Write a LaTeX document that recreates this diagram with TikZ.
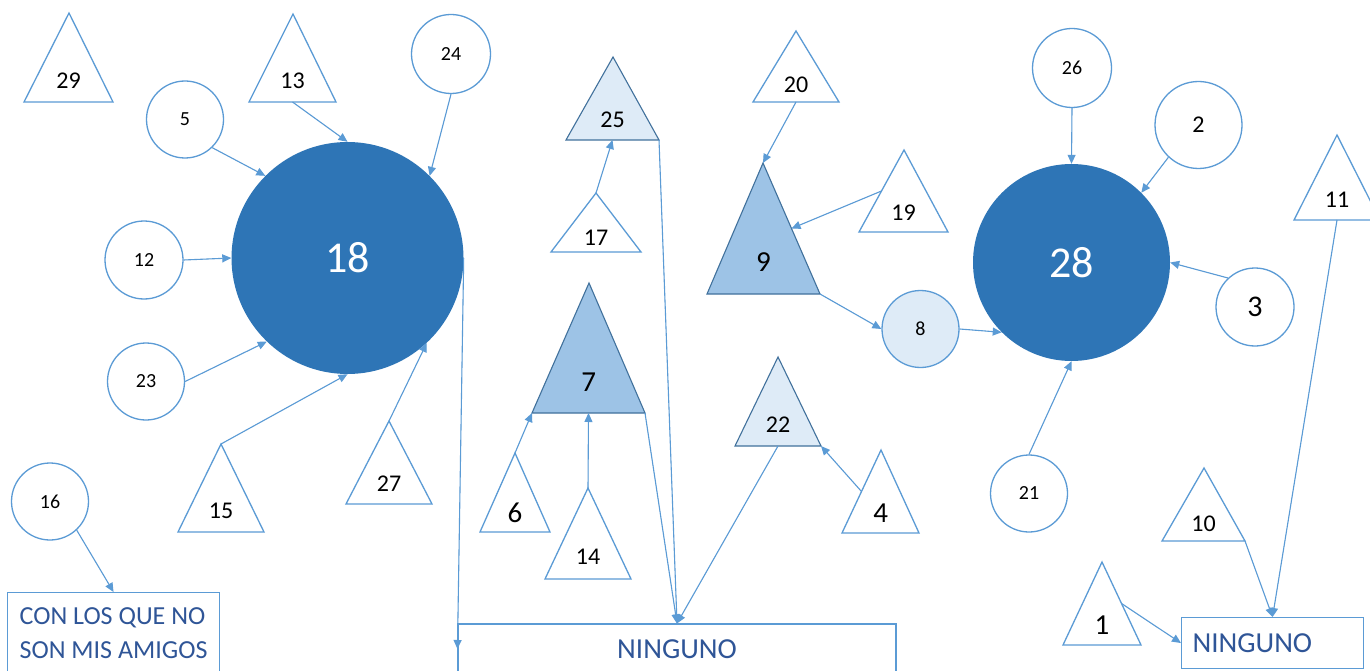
\documentclass[tikz,border=0pt]{standalone}
\usepackage{fontspec}
\setmainfont{Carlito}
\usetikzlibrary{calc}
\usetikzlibrary{arrows.meta}
\usepackage{xcolor}
\definecolor{lineblue}{HTML}{5B9BD5}
\definecolor{darkblue}{HTML}{2E75B6}
\definecolor{midblue}{HTML}{9DC3E6}
\definecolor{paleblue}{HTML}{DEEBF7}
\definecolor{edgeblue}{HTML}{41719C}
\definecolor{textblue}{HTML}{2F5597}

\begin{document}
\begin{tikzpicture}[x=1pt, y=-1pt, >={Triangle[length=9pt,width=8pt]},
 arr/.style={->, draw=lineblue, fill=lineblue, line width=1.1pt},
 tri/.style={draw=lineblue, line width=1.3pt, fill=white},
 tril/.style={draw=edgeblue, line width=1.1pt, fill=paleblue},
 trim/.style={draw=edgeblue, line width=1.1pt, fill=midblue},
 tlab/.style={font=\fontsize{24}{28}\selectfont, inner sep=0pt},
 tbig/.style={font=\fontsize{29}{32}\selectfont, inner sep=0pt},
 circ/.style={circle, draw=lineblue, line width=1.3pt, fill=white, inner sep=0pt, font=\fontsize{20}{24}\selectfont},
 circm/.style={circ, font=\fontsize{24}{28}\selectfont},
 circb/.style={circ, font=\fontsize{30}{34}\selectfont},
 circl/.style={circ, fill=paleblue},
 hub/.style={circle, fill=darkblue, text=white, inner sep=0pt, font=\fontsize{44}{48}\selectfont},
 boxa/.style={draw=lineblue, line width=1.1pt, fill=white, text=textblue, font=\fontsize{26}{34}\selectfont, align=left, minimum width=212pt, inner xsep=11pt, inner ysep=15pt},
 boxb/.style={draw=lineblue, line width=1.1pt, fill=white, text=textblue, font=\fontsize{29}{34}\selectfont}]
\useasboundingbox (0,0) rectangle (1370,671);
\clip (0,0) rectangle (1370,671);
\fill[white] (0,0) rectangle (1370,671);

\foreach \n/\x/\y/\d/\st in {5/185/119.5/77/circ, 12/144/260/78/circ, 24/451/54/79/circ,
  23/146/381.5/77/circ, 16/50/501.5/77/circ, 26/1072/68/79/circ, 2/1198.5/125/87/circm,
  3/1255/307/78/circb, 21/1029/493.5/77/circ, 8/920.5/329/77/circl,
  18/347.5/258/232/hub, 28/1071.5/262.5/197/hub} {
 \node[\st, minimum size=\d pt] (c\n) at (\x,\y) {\n};
}

\foreach \n/\ax/\ay/\bl/\br/\by/\st/\lb in {29/69/13/24/113/102/tri/tlab, 13/293/14/249/336/102/tri/tlab,
  15/221/444/178/264/532/tri/tlab, 27/389/421/346/432/504/tri/tlab, 25/613/57/566/659/140/tril/tlab,
  17/596/193/551/641/252/tri/tlab, 20/796/31/753/839/102/tri/tlab, 9/763/163/707/820/294/trim/tbig,
  19/904/150/859/948/232/tri/tlab, 7/589/283/532/645/413/trim/tbig, 6/515/453/480/550/532/tri/tbig,
  14/588/488/545/631/579/tri/tlab, 22/778/357/735/821/446/tril/tlab, 4/881/450/842/919/533/tri/tbig,
  11/1337/135/1294/1380/220/tri/tlab, 10/1204/468/1162/1245/541/tri/tlab, 1/1102/562/1063/1141/645/tri/tbig} {
 \path[\st] (\ax,\ay) coordinate (t\n a) -- (\bl,\by) coordinate (t\n l) -- (\br,\by) coordinate (t\n r) -- cycle;
 \coordinate (t\n b) at ($(t\n l)!.5!(t\n r)$);
 \node[\lb] (t\n) at ($(t\n a)!.76!(t\n b)$) {\n};
}

\node[boxa, anchor=north west] (amigos) at (7,592) {CON LOS QUE NO\\SON MIS AMIGOS};
\node[boxb, minimum width=438pt, minimum height=50pt] (ning1) at (677,649) {NINGUNO};
\node[boxb, anchor=north west, align=left, text width=160pt, inner xsep=11pt, minimum height=51pt] (ning2) at (1181,617) {NINGUNO};

\draw[arr] (c5.-46) -- (c18.135);
\draw[arr] (t13b) -- (c18.north);
\draw[arr] (c24.south) -- (c18.45);
\draw[arr] (c12.east) -- (c18.west);
\draw[arr] (c23.east) -- (c18.-134);
\draw[arr] (t15a) -- (c18.south);
\draw[arr] (t27a) -- (c18.-47);
\draw[arr] (c16.-47) -- (amigos.north);
\draw[arr] (c18.east) -- (ning1.west);
\draw[arr] (t25r) -- (ning1.north);
\draw[arr] (t7r) -- (ning1.north);
\draw[arr] (t22b) -- (ning1.north);
\draw[arr] (t17a) -- (t25b);
\draw[arr] (t6a) -- (t7l);
\draw[arr] (t14a) -- (t7b);
\draw[arr] ($(t4a)!.5!(t4l)$) -- (t22r);
\draw[arr] (t20b) -- (t9a);
\draw[arr] ($(t19a)!.5!(t19l)$) -- ($(t9a)!.5!(t9r)$);
\draw[arr] (t9r) -- (c8.west);
\draw[arr] (c8.east) -- (c28.-135);
\draw[arr] (c26.south) -- (c28.north);
\draw[arr] (c2.-133) -- (c28.45);
\draw[arr] (c3.133) -- (c28.east);
\draw[arr] (c21.north) -- (c28.south);
\draw[arr] (t11b) -- (ning2.north);
\draw[arr] (t10r) -- (ning2.north);
\draw[arr] ($(t1a)!.5!(t1r)$) -- (ning2.west);
\end{tikzpicture}
\end{document}
